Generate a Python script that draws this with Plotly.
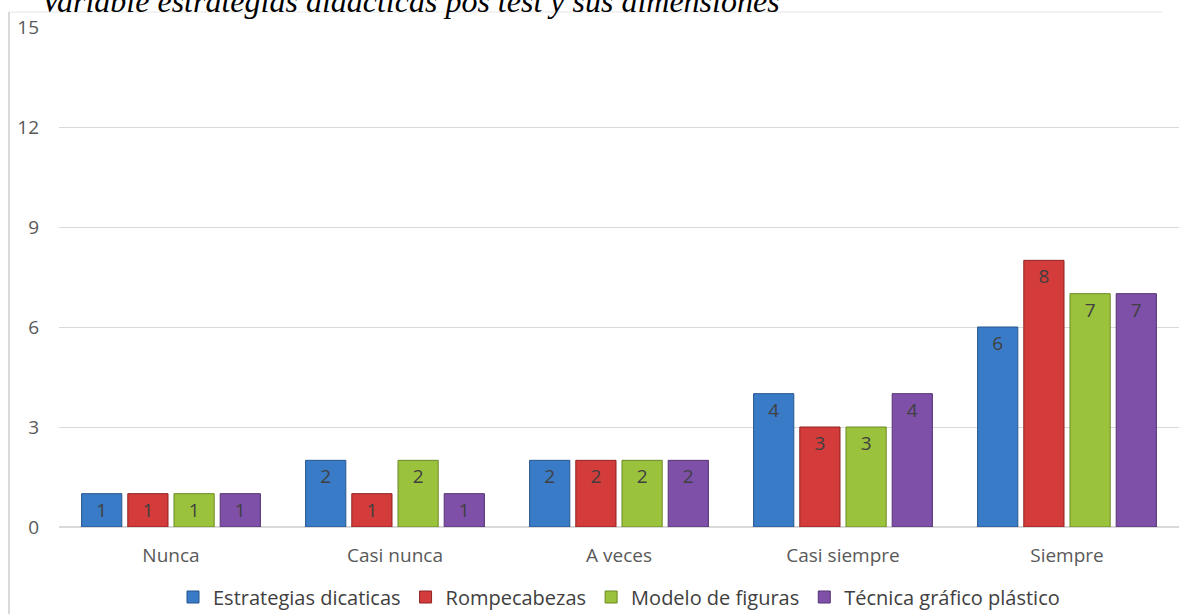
import plotly.graph_objects as go

categories = ["Nunca", "Casi nunca", "A veces", "Casi siempre", "Siempre"]
estrategias = [1, 2, 2, 4, 6]
rompecabezas = [1, 1, 2, 3, 8]
modelo = [1, 2, 2, 3, 7]
tecnica = [1, 1, 2, 4, 7]
series_names = ["Estrategias dicaticas", "Rompecabezas", "Modelo de figuras", "Técnica gráfico plástico"]
y_ticks = [0, 3, 6, 9, 12, 15]
title_text = "Variable estrategias didácticas pos test y sus dimensiones"

colors = ["#3A7BC8", "#D43B3B", "#9BC23C", "#7E50A8"]
lines = ["#26558C", "#8E2323", "#6A8A22", "#553373"]

fig = go.Figure()
for name, vals, c, lc in zip(series_names, [estrategias, rompecabezas, modelo, tecnica], colors, lines):
    fig.add_trace(go.Bar(
        x=categories, y=vals, name=name,
        marker=dict(color=c, line=dict(color=lc, width=1)),
        text=vals, textposition="inside", insidetextanchor="end",
        textfont=dict(color="#404040", size=19, family="Open Sans"),
        constraintext="none",
    ))

fig.update_layout(
    width=1179, height=614,
    margin=dict(l=59, r=0, t=27, b=87, autoexpand=False),
    paper_bgcolor="white", plot_bgcolor="white",
    barmode="group", bargap=0.175, bargroupgap=0.13,
    font=dict(family="Open Sans", color="#595959", size=19),
    showlegend=True,
    legend=dict(orientation="h", x=0.5, xanchor="center", y=-0.14, yanchor="middle",
                font=dict(size=20, color="#404040"), itemwidth=30, traceorder="normal"),
    xaxis=dict(showgrid=False, showline=False, ticks="", ticklabelstandoff=15, automargin=False,
               tickfont=dict(size=19, color="#595959")),
    yaxis=dict(range=[0, 15], tickvals=y_ticks, showgrid=True, gridcolor="#D9D9D9", gridwidth=1,
               zeroline=True, zerolinecolor="#D9D9D9", zerolinewidth=2, automargin=False,
               showline=False, ticks="", ticklabelstandoff=19,
               tickfont=dict(size=19, color="#595959")),
    annotations=[dict(text="<i>" + title_text + "</i>", xref="paper", yref="paper",
                      x=(39 - 59) / 1120, xanchor="left", y=1.0 + (27 - 21) / 500, yanchor="bottom",
                      showarrow=False, font=dict(family="Liberation Serif", size=32, color="black"))],
    shapes=[
        dict(type="line", xref="paper", yref="paper", x0=(9 - 59) / 1120, x1=(9 - 59) / 1120,
             y0=-0.2, y1=1.03, line=dict(color="#D9D9D9", width=2)),
        dict(type="line", xref="paper", yref="paper", x0=(9 - 59) / 1120, x1=0.985, y0=1.03, y1=1.03,
             line=dict(color="#E6E6E6", width=1)),
    ],
)

fig.write_html("out.html", config={"displayModeBar": False},
               post_script="document.body.style.margin='0';")
